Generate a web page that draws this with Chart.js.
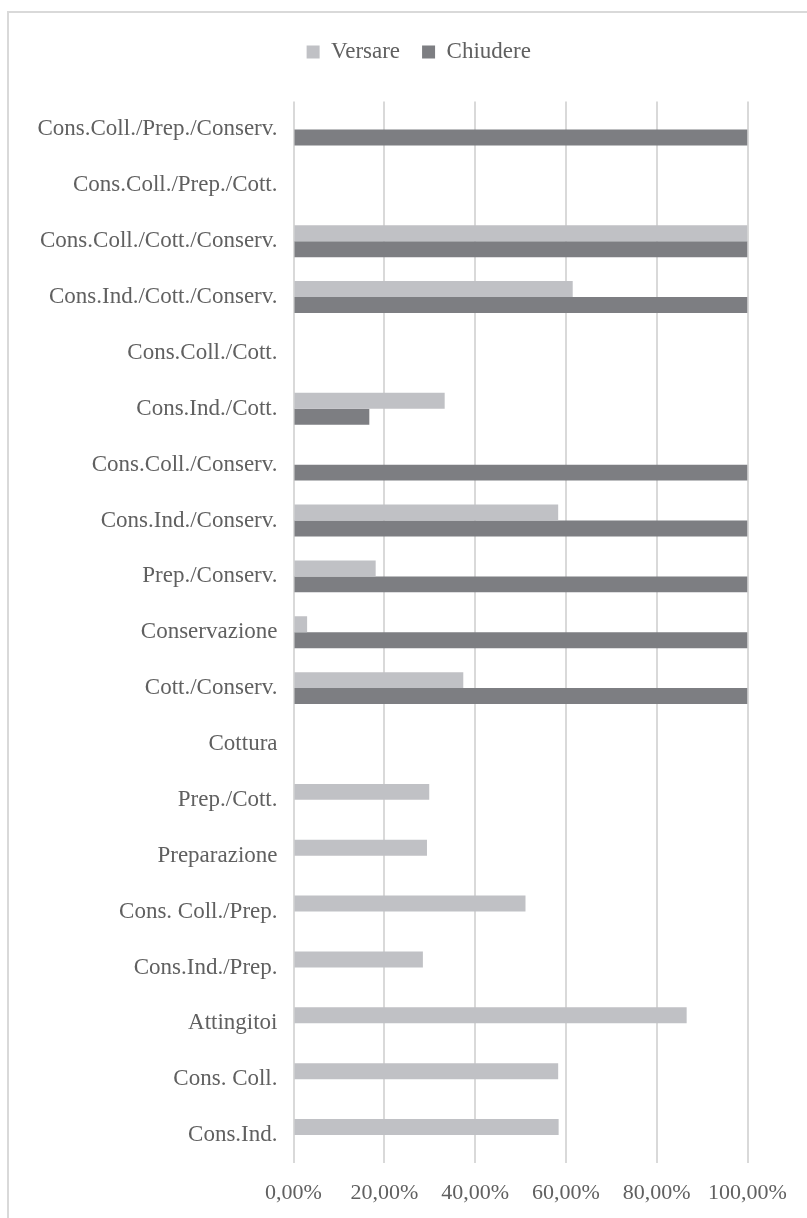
<!DOCTYPE html>
<html>
<head>
<meta charset="utf-8">
<script src="https://cdn.jsdelivr.net/npm/chart.js@4/dist/chart.umd.min.js"></script>
<style>
  html, body { margin: 0; padding: 0; background: #ffffff; }
  #wrap { position: relative; width: 807px; height: 1218px; overflow: hidden; }
  #frame { position: absolute; left: 7px; top: 11px; width: 900px; height: 1300px;
           border-left: 2px solid #d9d9d9; border-top: 2px solid #d9d9d9; box-sizing: border-box; }
  canvas { position: absolute; left: 0; top: 0; }
</style>
</head>
<body>
<div id="wrap">
  <div id="frame"></div>
  <canvas id="c" width="807" height="1218"></canvas>
</div>
<script>
const categories = [
  "Cons.Coll./Prep./Conserv.",
  "Cons.Coll./Prep./Cott.",
  "Cons.Coll./Cott./Conserv.",
  "Cons.Ind./Cott./Conserv.",
  "Cons.Coll./Cott.",
  "Cons.Ind./Cott.",
  "Cons.Coll./Conserv.",
  "Cons.Ind./Conserv.",
  "Prep./Conserv.",
  "Conservazione",
  "Cott./Conserv.",
  "Cottura",
  "Prep./Cott.",
  "Preparazione",
  "Cons. Coll./Prep.",
  "Cons.Ind./Prep.",
  "Attingitoi",
  "Cons. Coll.",
  "Cons.Ind."
];
const versare = [0, 0, 100, 61.5, 0, 33.3, 0, 58.3, 18.1, 3.0, 37.4, 0, 29.9, 29.4, 51.1, 28.5, 86.6, 58.3, 58.4];
const chiudere = [100, 0, 100, 100, 0, 16.7, 100, 100, 100, 100, 100, 0, 0, 0, 0, 0, 0, 0, 0];
const xTicks = [0, 20, 40, 60, 80, 100];
const seriesNames = ["Versare", "Chiudere"];

const FONT = "'Liberation Serif', 'DejaVu Serif', serif";
const TEXT = "#606060";

// extra space under the legend and a horizontal shift of the legend row
const legendAdjust = {
  id: 'legendAdjust',
  afterInit(chart) {
    const lg = chart.legend;
    if (lg && !lg._adjWrapped) {
      const origFit = lg.fit;
      lg.fit = function () { origFit.call(this); this.height += 28; };
      const origDraw = lg.draw;
      lg.draw = function () {
        const ctx = this.ctx;
        ctx.save();
        ctx.translate(45, 0);
        origDraw.call(this);
        ctx.restore();
      };
      lg._adjWrapped = true;
    }
  }
};

new Chart(document.getElementById('c'), {
  type: 'bar',
  data: {
    labels: categories,
    datasets: [
      { label: seriesNames[0], data: versare, backgroundColor: '#c0c1c5', borderWidth: 0 },
      { label: seriesNames[1], data: chiudere, backgroundColor: '#7d7e82', borderWidth: 0 }
    ]
  },
  options: {
    indexAxis: 'y',
    responsive: false,
    animation: false,
    devicePixelRatio: 1,
    layout: { padding: { left: 0, right: 59.5, top: 18.5, bottom: 0 } },
    categoryPercentage: 0.572,
    barPercentage: 1.0,
    plugins: {
      tooltip: { enabled: false },
      legend: {
        position: 'top',
        align: 'center',
        labels: {
          boxWidth: 13, boxHeight: 13, padding: 22,
          color: TEXT,
          font: { family: FONT, size: 23 }
        }
      }
    },
    scales: {
      x: {
        type: 'linear',
        min: 0, max: 100,
        afterBuildTicks(scale) { scale.ticks = xTicks.map(v => ({ value: v })); },
        afterFit(scale) { scale.height = 55; },
        grid: { color: '#d9d9d9', lineWidth: 2, drawTicks: false },
        border: { display: false },
        ticks: {
          padding: 17,
          color: TEXT,
          font: { family: FONT, size: 22 },
          callback: (v) => v.toFixed(2).replace('.', ',') + '%'
        }
      },
      y: {
        type: 'category',
        afterFit(scale) { scale.width = 293.5; },
        grid: { display: false, drawTicks: false },
        border: { display: false },
        ticks: {
          padding: 16,
          color: TEXT,
          autoSkip: false,
          font: { family: FONT, size: 23 }
        }
      }
    }
  },
  plugins: [legendAdjust]
});
</script>
</body>
</html>
